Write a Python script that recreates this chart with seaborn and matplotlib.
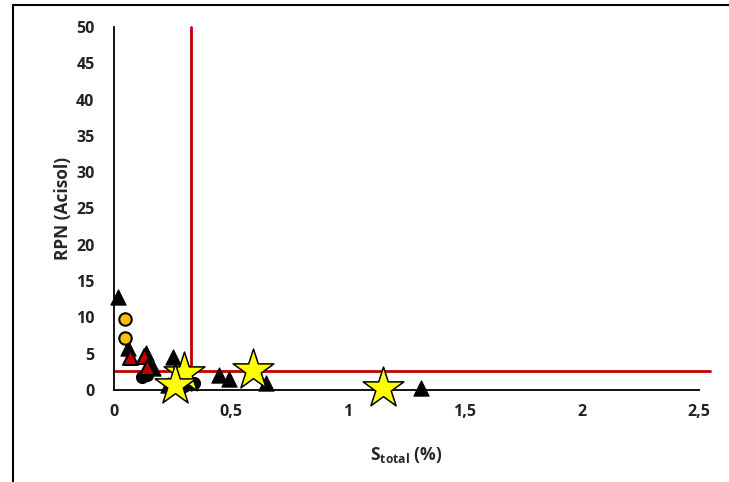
import seaborn as sns
import matplotlib.pyplot as plt
import pandas as pd
from matplotlib.lines import Line2D

# data
tri_black_x = [0.017, 0.06, 0.137, 0.167, 0.25, 0.23, 0.45, 0.49, 0.65, 1.31]
tri_black_y = [12.8, 5.8, 5.1, 3.0, 4.5, 0.7, 2.0, 1.5, 1.0, 0.3]
circ_black_x = [0.12, 0.14, 0.34, 0.30]
circ_black_y = [1.8, 2.1, 0.9, 0.6]
circ_orange_x = [0.047, 0.047]
circ_orange_y = [9.8, 7.2]
tri_red_x = [0.068, 0.128, 0.14]
tri_red_y = [4.5, 4.7, 3.2]
star_x = [0.30, 0.26, 0.595, 1.15]
star_y = [2.3, 0.7, 2.8, 0.3]

thresh_x = 0.33
thresh_y = 2.6

sns.set_style("white")
plt.rcParams['font.family'] = ['Open Sans', 'DejaVu Sans']

fig = plt.figure(figsize=(7.29, 4.82), dpi=100)
ax = fig.add_axes([114 / 729, 1 - 390 / 482, (699 - 114) / 729, (390 - 27) / 482])

red = "#C00000"
ax.plot([thresh_x, thresh_x], [0, 50], color=red, lw=2, zorder=2, clip_on=False)
ax.plot([0, 2.547], [thresh_y, thresh_y], color=red, lw=2, zorder=2, clip_on=False)

groups = [
    (tri_black_x, tri_black_y, "^", "black", "black", 120, 0.8),
    (circ_black_x, circ_black_y, "o", "black", "black", 75, 0.8),
    (circ_orange_x, circ_orange_y, "o", "#FFC000", "black", 80, 1.5),
    (tri_red_x, tri_red_y, "^", "#C00000", "black", 115, 1.5),
    (star_x, star_y, "*", "#FFFF00", "black", 950, 1.1),
]
for i, (xs, ys, m, fc, ec, s, lw) in enumerate(groups):
    df = pd.DataFrame({"S": xs, "RPN": ys})
    sns.scatterplot(data=df, x="S", y="RPN", marker=m, color=fc, edgecolor=ec,
                    s=s, linewidth=lw, ax=ax, zorder=3 + i, clip_on=False)

ax.set_xlim(0, 2.5)
ax.set_ylim(0, 50)
ax.set_xticks([0, 0.5, 1, 1.5, 2, 2.5])
ax.set_xticklabels(["0", "0,5", "1", "1,5", "2", "2,5"])
ax.set_yticks(range(0, 51, 5))
for lab in ax.get_xticklabels() + ax.get_yticklabels():
    lab.set_fontweight("bold")
    lab.set_fontsize(11.5)
    lab.set_color("#222222")
ax.tick_params(axis="x", length=0, pad=10)
ax.tick_params(axis="y", length=0, pad=14)

sns.despine(ax=ax)
for sp in ["left", "bottom"]:
    ax.spines[sp].set_linewidth(1.3)
    ax.spines[sp].set_color("black")

ax.set_xlabel(r"S$_{\mathregular{total}}$ (%)", fontsize=12.5, fontweight="bold", labelpad=18)
ax.set_ylabel("RPN (Acisol)", fontsize=12.5, fontweight="bold", labelpad=3)

# outer frame of the figure
fx = 13 / 729
fy = 1 - 5 / 482
fig.add_artist(Line2D([fx, fx], [0, fy], color="black", lw=1.5, transform=fig.transFigure))
fig.add_artist(Line2D([fx, 1], [fy, fy], color="black", lw=1.5, transform=fig.transFigure))

fig.savefig("out.png", dpi=100)
